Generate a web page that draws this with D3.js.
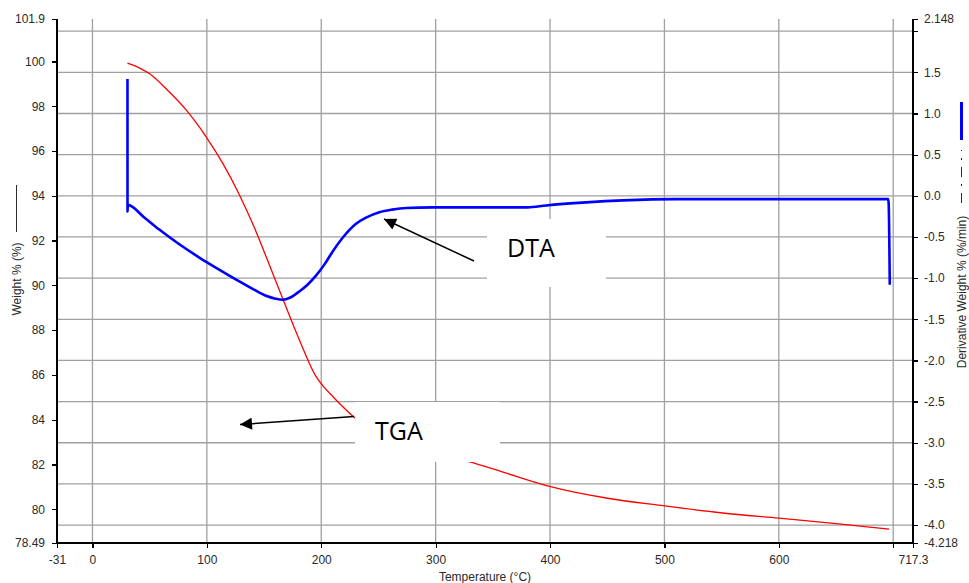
<!DOCTYPE html>
<html>
<head>
    <meta charset="utf-8">
    <title>TGA / DTA</title>
    <script type="text/javascript" src="https://cdn.jsdelivr.net/npm/d3@7"></script>
    <style>
        body { margin: 0; background: #fff; }
        .tick text { font-family: "Liberation Sans", Arial, sans-serif; font-size: 12px; fill: #2a2a2a; }
        .grid-line { stroke: #a0a0a0; stroke-width: 1.3; }
        .axis path, .axis line { stroke: #000; stroke-width: 1.2; shape-rendering: crispEdges; }
        .title { font-family: "Liberation Sans", Arial, sans-serif; font-size: 12px; fill: #2a2a2a; }
        .note { font-family: "Open Sans", sans-serif; font-size: 25px; fill: #000; }
    </style>
</head>

<body>

<script type="text/javascript">
// TGA curve: temperature (°C) / weight (%)
var tgaTemp   = [30.6, 40, 50, 65, 81.7, 99.2, 113.7, 128.4, 141.5, 154, 166.2, 180.8, 195.4, 203, 210, 218, 228,
                 250, 280, 300, 329, 361.7, 399.6, 449, 500.2, 551, 600, 650, 696.4];
var tgaWeight = [99.93, 99.74, 99.45, 98.75, 97.85, 96.65, 95.47, 94.05, 92.58, 91.0, 89.42, 87.57, 85.93, 85.42, 85.04, 84.62, 84.14,
                 83.35, 82.75, 82.45, 82.13, 81.61, 81.02, 80.5, 80.15, 79.83, 79.6, 79.36, 79.11];

// DTA curve: temperature (°C) / derivative weight (%/min)
var dtaTemp  = [30.6, 30.65, 30.9, 45, 58.4, 75, 93.4, 110, 128.4, 140, 151.7, 160, 166.2, 173, 180.8, 188, 195.4, 203,
                210, 218.7, 230.4, 239.2, 250.8, 262, 274.2, 297.5, 380.6, 396.7, 431.7, 463.7, 510.4, 695.5, 696, 697];
var dtaDeriv = [1.42, -0.19, -0.11, -0.26, -0.41, -0.58, -0.75, -0.89, -1.04, -1.13, -1.215, -1.25, -1.263, -1.235, -1.162, -1.08, -0.97, -0.83,
                -0.676, -0.51, -0.34, -0.265, -0.2, -0.168, -0.148, -0.141, -0.141, -0.117, -0.08, -0.056, -0.04, -0.04, -0.085, -1.08];

var xTicks = [-31, 0, 100, 200, 300, 400, 500, 600, 700, 717.3];
var xTickLabels = ["-31", "0", "100", "200", "300", "400", "500", "600", "", "717.3"];
var leftTicks = [78.49, 80, 82, 84, 86, 88, 90, 92, 94, 96, 98, 100, 101.9];
var rightTicks = [-4.218, -4.0, -3.5, -3.0, -2.5, -2.0, -1.5, -1.0, -0.5, 0.0, 0.5, 1.0, 1.5, 2.0, 2.148];
var rightTickLabels = ["-4.218", "-4.0", "-3.5", "-3.0", "-2.5", "-2.0", "-1.5", "-1.0", "-0.5", "0.0", "0.5", "1.0", "1.5", "", "2.148"];
var xGrid = [0, 100, 200, 300, 400, 500, 600, 700];
var yGrid = [-4.0, -3.5, -3.0, -2.5, -2.0, -1.5, -1.0, -0.5, 0.0, 0.5, 1.0, 1.5, 2.0];

var width = 969, height = 583,
    margins = {top: 19, left: 57, right: 56, bottom: 40};

var svg = d3.select("body").append("svg")
        .attr("width", width)
        .attr("height", height);

var x = d3.scaleLinear().domain([-31, 717.3]).range([margins.left, width - margins.right]);
var yLeft = d3.scaleLinear().domain([78.49, 101.9]).range([height - margins.bottom, margins.top]);
var yRight = d3.scaleLinear().domain([-4.218, 2.148]).range([height - margins.bottom, margins.top]);

function renderGrid() {
    var g = svg.append("g").attr("class", "grid");
    g.selectAll("line.v").data(xGrid).enter().append("line")
            .attr("class", "grid-line v")
            .attr("x1", function (d) { return x(d); })
            .attr("x2", function (d) { return x(d); })
            .attr("y1", margins.top)
            .attr("y2", height - margins.bottom);
    g.selectAll("line.h").data(yGrid).enter().append("line")
            .attr("class", "grid-line h")
            .attr("x1", margins.left)
            .attr("x2", width - margins.right)
            .attr("y1", function (d) { return yRight(d); })
            .attr("y2", function (d) { return yRight(d); });
}

function renderAxes() {
    var xAxis = d3.axisBottom(x).tickValues(xTicks).tickSize(5).tickPadding(7)
            .tickFormat(function (d, i) { return xTickLabels[i]; });
    svg.append("g").attr("class", "x axis")
            .attr("transform", "translate(0," + (height - margins.bottom) + ")")
            .call(xAxis);

    var leftAxis = d3.axisLeft(yLeft).tickValues(leftTicks).tickSize(5).tickPadding(7)
            .tickFormat(function (d) { return d === 78.49 || d === 101.9 ? String(d) : d3.format("d")(d); });
    svg.append("g").attr("class", "y axis")
            .attr("transform", "translate(" + margins.left + ",0)")
            .call(leftAxis);

    var rightAxis = d3.axisRight(yRight).tickValues(rightTicks).tickSize(5).tickPadding(6)
            .tickFormat(function (d, i) { return rightTickLabels[i]; });
    svg.append("g").attr("class", "y2 axis")
            .attr("transform", "translate(" + (width - margins.right) + ",0)")
            .call(rightAxis);

    // plain axis lines without end caps
    svg.selectAll(".x.axis path").attr("d", "M" + margins.left + ",0H" + (width - margins.right));
    svg.selectAll(".y.axis path, .y2.axis path").attr("d", "M0," + margins.top + "V" + (height - margins.bottom));
}

function renderLines() {
    var tga = tgaTemp.map(function (t, i) { return [t, tgaWeight[i]]; });
    var dta = dtaTemp.map(function (t, i) { return [t, dtaDeriv[i]]; });

    var tgaLine = d3.line()
            .x(function (d) { return x(d[0]); })
            .y(function (d) { return yLeft(d[1]); })
            .curve(d3.curveMonotoneX);
    var dtaLine = d3.line()
            .x(function (d) { return x(d[0]); })
            .y(function (d) { return yRight(d[1]); })
            .curve(d3.curveMonotoneX);

    svg.append("path").datum(tga)
            .attr("d", tgaLine)
            .style("fill", "none").style("stroke", "#ff0000").style("stroke-width", 1.3);
    svg.append("path").datum(dta)
            .attr("d", dtaLine)
            .style("fill", "none").style("stroke", "#0000ff").style("stroke-width", 2.6)
            .style("stroke-linejoin", "round");
}

function renderTitles() {
    svg.append("text").attr("class", "title")
            .attr("x", 485).attr("y", 581)
            .attr("text-anchor", "middle")
            .text("Temperature (°C)");

    svg.append("text").attr("class", "title")
            .attr("transform", "translate(21,279) rotate(-90)")
            .attr("text-anchor", "middle")
            .text("Weight % (%)");
    svg.append("line")
            .attr("x1", 16.5).attr("x2", 16.5).attr("y1", 232).attr("y2", 185)
            .style("stroke", "#2a2a2a").style("stroke-width", 1);

    svg.append("text").attr("class", "title")
            .attr("transform", "translate(966,292) rotate(-90)")
            .attr("text-anchor", "middle")
            .text("Derivative Weight % (%/min)");
    svg.append("line")
            .attr("x1", 961.5).attr("x2", 961.5).attr("y1", 203).attr("y2", 150)
            .style("stroke", "#2a2a2a").style("stroke-width", 1)
            .style("stroke-dasharray", "10,7,2,7");
    svg.append("line")
            .attr("x1", 961.5).attr("x2", 961.5).attr("y1", 140).attr("y2", 102)
            .style("stroke", "#0000ff").style("stroke-width", 3);
}

function renderNotes() {
    svg.append("defs").append("marker")
            .attr("id", "head")
            .attr("viewBox", "0 0 10 10")
            .attr("refX", 10).attr("refY", 5)
            .attr("markerUnits", "userSpaceOnUse")
            .attr("markerWidth", 14).attr("markerHeight", 12)
            .attr("orient", "auto")
            .append("path").attr("d", "M0,0L10,5L0,10Z").style("fill", "#000");

    svg.append("rect").attr("x", 487).attr("y", 219).attr("width", 119).attr("height", 68).style("fill", "#fff");
    svg.append("rect").attr("x", 355).attr("y", 402).attr("width", 145).attr("height", 60).style("fill", "#fff");

    svg.append("text").attr("class", "note").attr("x", 507).attr("y", 257).text("DTA");
    svg.append("text").attr("class", "note").attr("x", 375).attr("y", 440).text("TGA");

    svg.append("line")
            .attr("x1", 474).attr("y1", 261).attr("x2", 384).attr("y2", 219)
            .style("stroke", "#000").style("stroke-width", 1.5)
            .attr("marker-end", "url(#head)");
    svg.append("line")
            .attr("x1", 354).attr("y1", 416.5).attr("x2", 240).attr("y2", 424.5)
            .style("stroke", "#000").style("stroke-width", 1.5)
            .attr("marker-end", "url(#head)");
}

renderGrid();
renderLines();
renderAxes();
renderTitles();
renderNotes();
</script>

</body>

</html>
